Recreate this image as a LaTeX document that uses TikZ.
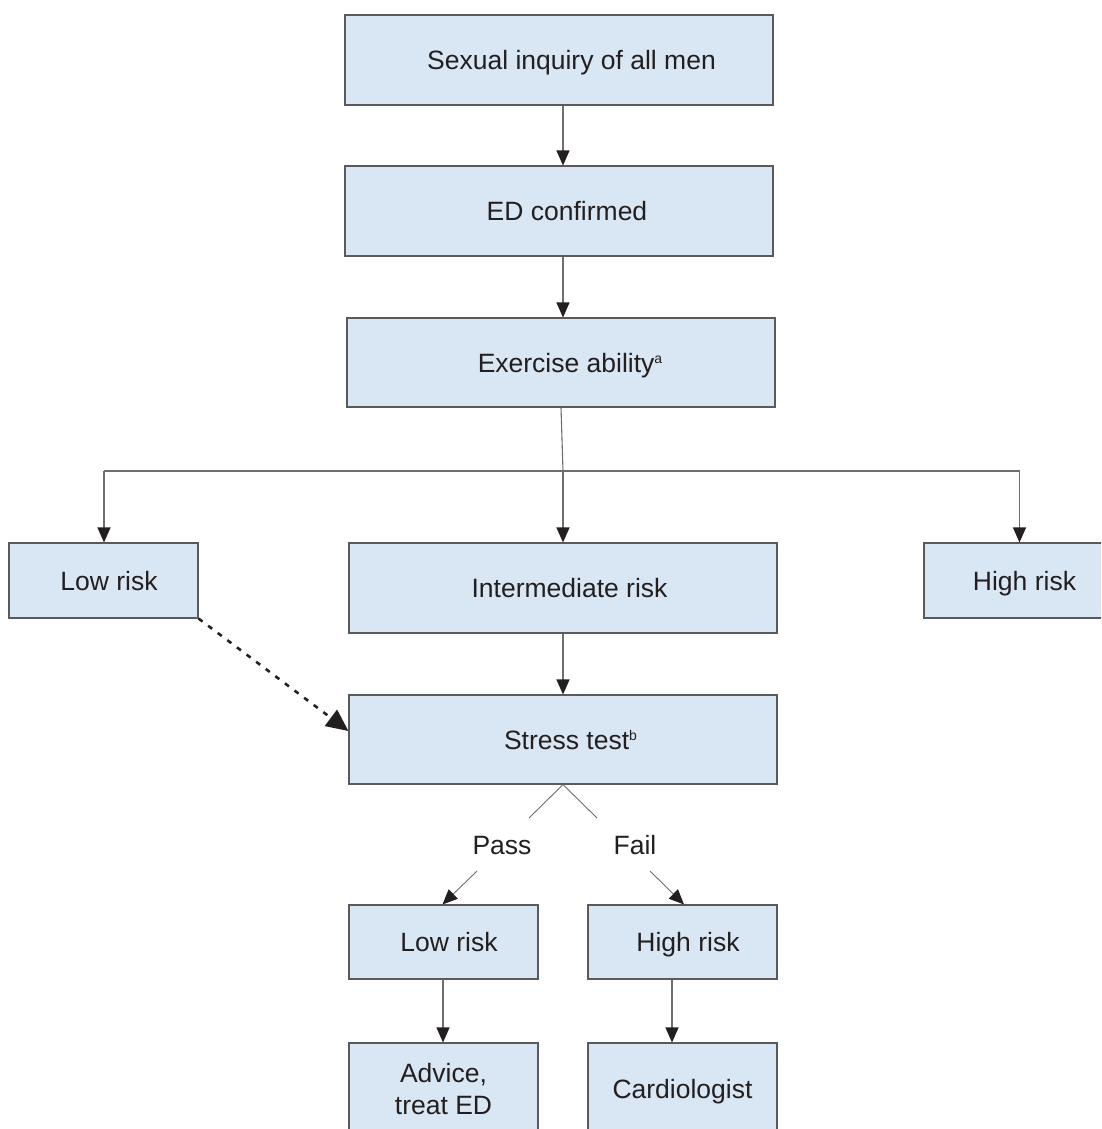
\documentclass[tikz,border=0pt]{standalone}
\usepackage{fontspec}
\setmainfont{Liberation Sans}
\usetikzlibrary{arrows.meta,calc}
\definecolor{boxblue}{HTML}{D9E6F3}
\definecolor{boxline}{HTML}{5A5A5A}
\definecolor{conline}{HTML}{6E6E6E}
\definecolor{ink}{HTML}{231F20}
\newcommand{\supx}[1]{\raisebox{9pt}{\fontsize{14}{14}\selectfont #1}}
\begin{document}
\begin{tikzpicture}[x=1pt,y=-1pt,
  fbox/.style={draw=boxline,fill=boxblue,line width=1.1pt,inner sep=0pt,
    text=ink,font=\fontsize{26.5}{32}\selectfont,text height=19pt,text depth=0pt},
  mbox/.style={draw=boxline,fill=boxblue,line width=1.1pt,inner sep=0pt,
    text=ink,font=\fontsize{26.5}{32}\selectfont,align=center},
  arr/.style={draw=conline,line width=1.1pt,-{Triangle[width=13pt,length=15pt,fill=ink,color=ink]}},
  con/.style={draw=conline,line width=1.1pt},
  lbl/.style={text=ink,font=\fontsize{26.5}{32}\selectfont,inner sep=0pt,text height=19pt,text depth=0pt}]
\useasboundingbox (0,0) rectangle (1101,1129);
\clip (0,0) rectangle (1101,1129);
\fill[white] (0,0) rectangle (1101,1129);
% boxes
\node[fbox,minimum width=428pt,minimum height=90pt] (inq) at (559,60) {\hspace*{25pt}Sexual inquiry of all men};
\node[fbox,minimum width=428pt,minimum height=90pt] (ed) at (559,211) {\hspace*{16pt}ED confirmed};
\node[fbox,minimum width=428pt,minimum height=89pt] (ex) at (561,362.5) {\hspace*{18pt}Exercise ability\supx{a}};
\node[fbox,minimum width=189pt,minimum height=75pt] (low) at (103.5,580.5) {\hspace*{11pt}Low risk};
\node[fbox,minimum width=428pt,minimum height=90pt] (inter) at (563,588) {\hspace*{13pt}Intermediate risk};
\node[fbox,minimum width=191pt,minimum height=75pt] (high) at (1019.5,580.5) {\hspace*{10pt}High risk};
\node[fbox,minimum width=428pt,minimum height=89pt] (st) at (563,739.5) {\hspace*{15pt}Stress test\supx{b}};
\node[fbox,minimum width=189pt,minimum height=74pt] (lowb) at (443.5,942) {\hspace*{11pt}Low risk};
\node[fbox,minimum width=189pt,minimum height=74pt] (highb) at (682.5,942) {\hspace*{11pt}High risk};
\node[mbox,minimum width=189pt,minimum height=92pt] (adv) at (443.5,1089) {Advice,\\[0pt]treat ED};
\node[fbox,minimum width=189pt,minimum height=92pt] (card) at (682.5,1089) {Cardiologist};
% labels
\node[lbl] (pass) at (502,845) {Pass};
\node[lbl] (fail) at (635,845) {Fail};
% connectors
\draw[arr] ([xshift=4pt]inq.south) -- ([xshift=4pt]ed.north);
\draw[arr] ([xshift=4pt]ed.south) -- ([xshift=2pt]ex.north);
\coordinate (j) at (563,471);
\draw[con] (ex.south) -- (j);
\draw[arr] (j) -- (inter.north);
\draw[con] (j) -- (104,471);
\draw[arr] (104,471) -- ([xshift=0.5pt]low.north);
\draw[con] (j) -- (high.north |- j);
\draw[arr] (high.north |- j) -- (high.north);
\draw[arr] (inter.south) -- (st.north);
\draw[line width=2.6pt,ink,dash pattern=on 5pt off 7pt,-{Triangle[width=20pt,length=22pt]}]
  (low.south east) -- ([yshift=8.5pt]st.west);
\coordinate (pl) at (529,818);
\coordinate (pr) at (597,818);
\draw[con,line width=0.9pt] (pl) -- (st.south) -- (pr);
\coordinate (pa) at (477,871);
\coordinate (fa) at (650,871);
\draw[arr,line width=0.9pt] (pa) -- ([xshift=-0.5pt]lowb.north west -| 443,0) ;
\draw[arr,line width=0.9pt] (fa) -- (highb.north west -| 684,0);
\draw[arr] (443,979) -- (adv.north -| 443,0);
\draw[arr] ([xshift=-10.5pt]highb.south) -- ([xshift=-10.5pt]card.north);
\end{tikzpicture}
\end{document}
